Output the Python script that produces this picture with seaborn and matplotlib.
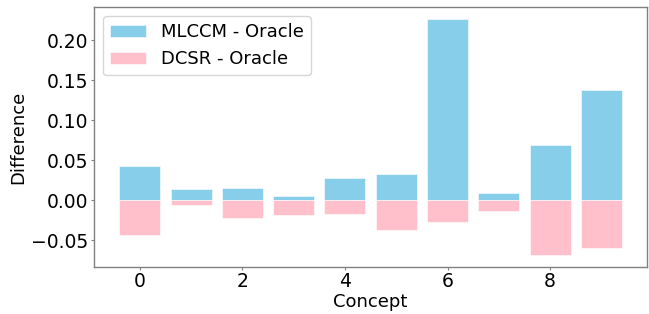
import numpy as np
import matplotlib
matplotlib.use("Agg")
import matplotlib.pyplot as plt
import seaborn as sns

concepts = np.arange(10)
mlccm_diff = [0.042, 0.014, 0.015, 0.005, 0.027, 0.032, 0.227, 0.009, 0.069, 0.138]
dcsr_diff = [-0.044, -0.006, -0.022, -0.019, -0.017, -0.037, -0.027, -0.014, -0.069, -0.060]

sns.set_style("white")
plt.rcParams['font.family'] = ['DejaVu Sans']
plt.rcParams['text.color'] = 'black'
plt.rcParams['axes.labelcolor'] = 'black'

fig, ax = plt.subplots(figsize=(6.49, 3.14), dpi=100)

sns.barplot(x=concepts, y=mlccm_diff, native_scale=True, color='skyblue',
            saturation=1, edgecolor='white', linewidth=0.4,
            label='MLCCM - Oracle', ax=ax)
sns.barplot(x=concepts, y=dcsr_diff, native_scale=True, color='pink',
            saturation=1, edgecolor='white', linewidth=0.4,
            label='DCSR - Oracle', ax=ax)

ax.set_xlim(-0.89, 9.89)
ax.set_ylim(-0.0836, 0.2415)
ax.set_xticks([0, 2, 4, 6, 8])
ax.set_yticks([-0.05, 0.0, 0.05, 0.10, 0.15, 0.20])
ax.set_yticklabels(['\u22120.05', '0.00', '0.05', '0.10', '0.15', '0.20'])
ax.set_xlabel('Concept', fontsize=13, labelpad=1)
ax.set_ylabel('Difference', fontsize=13, labelpad=3)
ax.tick_params(axis='both', labelsize=13.5, length=2.5, width=0.8, pad=1.5,
               color='gray', labelcolor='black', left=True, bottom=True)
for sp in ax.spines.values():
    sp.set_color('gray')
    sp.set_linewidth(1)

leg = ax.legend(loc='upper left', fontsize=13)
for t in leg.get_texts():
    t.set_color('black')

fig.subplots_adjust(left=0.145, right=0.997, top=0.978, bottom=0.150)
fig.savefig('out.png', dpi=100)
